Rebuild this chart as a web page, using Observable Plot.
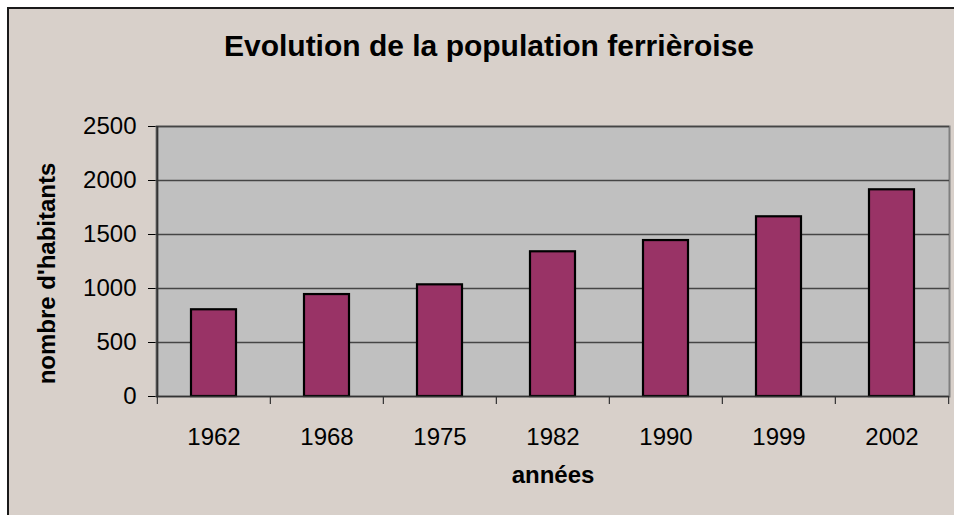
<!DOCTYPE html>
<html><head><meta charset="utf-8">
<script src="https://cdn.jsdelivr.net/npm/d3@7"></script>
<script src="https://cdn.jsdelivr.net/npm/@observablehq/plot@0.6"></script>
<style>
html,body{margin:0;padding:0;background:#fff;width:954px;height:515px;overflow:hidden;font-family:'Liberation Sans',Arial,sans-serif;}
#frame{position:absolute;left:7px;top:7px;width:980px;height:540px;border-left:2px solid #1a1a1a;border-top:2px solid #1a1a1a;background:#d8d0ca;}
#title{position:absolute;left:9px;top:28px;width:960px;text-align:center;font-weight:bold;font-size:30px;line-height:36px;color:#000;}
#chart{position:absolute;left:0;top:0;}
</style></head>
<body><div id="frame"></div><div id="title"></div><div id="chart"></div>
<script>
const title = "Evolution de la population ferrièroise";
const years = ["1962", "1968", "1975", "1982", "1990", "1999", "2002"];
const population = [803, 944, 1034, 1340, 1444, 1664, 1914];
const yTicks = [0, 500, 1000, 1500, 2000, 2500];
const xLabel = "années";
const yLabel = "nombre d'habitants";

const data = years.map((year, i) => ({year, pop: population[i]}));

const W = 954, H = 515, mL = 156, mR = 5, mT = 126, mB = 119;
const step = (W - mL - mR) / years.length;

document.getElementById("title").textContent = title;

const chart = Plot.plot({
  width: W,
  height: H,
  marginLeft: mL,
  marginRight: mR,
  marginTop: mT,
  marginBottom: mB,
  style: {background: "transparent", fontFamily: "'Liberation Sans', Arial, sans-serif", fontSize: "24px", color: "#000"},
  x: {domain: years, paddingInner: 0.6, paddingOuter: 0.3, tickSize: 0, tickPadding: 31, label: null},
  y: {domain: [0, 2500], ticks: yTicks, tickFormat: d => String(d), tickSize: 8, tickPadding: 12, label: null},
  marks: [
    Plot.frame({fill: "#c0c0c0", stroke: "#7f7f7f", strokeWidth: 2}),
    Plot.ruleY(yTicks.filter(d => d > 0), {stroke: "#454545", strokeWidth: 1.4}),
    Plot.barY(data, {x: "year", y: "pop", fill: "#993366", stroke: "#000", strokeWidth: 2.2}),
    Plot.ruleY([0], {stroke: "#333", strokeWidth: 1.5}),
    Plot.ruleX([years[0]], {dx: -step / 2, stroke: "#333", strokeWidth: 2}),
    Plot.ruleX(years, {x: d => d, y1: 0, y2: 0, dx: -step / 2, insetBottom: -8, stroke: "#333", strokeWidth: 1.2}),
    Plot.ruleX([years[years.length - 1]], {x: d => d, y1: 0, y2: 0, dx: step / 2, insetBottom: -8, stroke: "#333", strokeWidth: 1.2}),
    Plot.text([xLabel], {text: d => d, frameAnchor: "bottom", dy: 86, fontWeight: "bold", fontSize: 24}),
    Plot.text([yLabel], {text: d => d, frameAnchor: "left", textAnchor: "middle", rotate: -90, dx: -109, dy: 12, fontWeight: "bold", fontSize: 24})
  ]
});
document.getElementById("chart").appendChild(chart);
</script>
</body></html>
